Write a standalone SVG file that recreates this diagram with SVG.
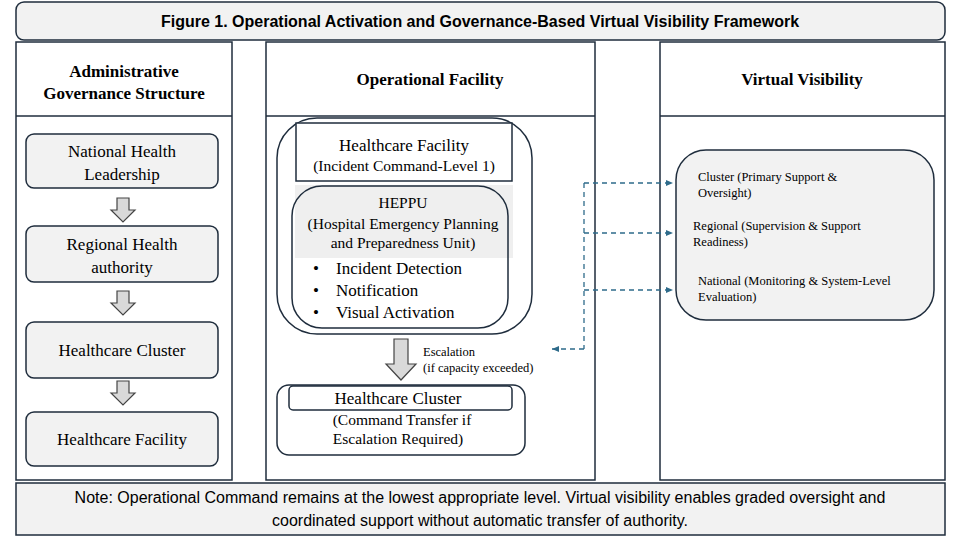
<svg xmlns="http://www.w3.org/2000/svg" width="960" height="540" viewBox="0 0 960 540">
<style>
.frame{fill:#fff;stroke:#1f2d3d;stroke-width:1.5}
.gbox{fill:#f2f2f2;stroke:#1f2d3d;stroke-width:1.5}
.s{font-family:"Liberation Serif",serif;fill:#000}
.h{font-family:"Liberation Serif",serif;font-weight:bold;font-size:17px;text-anchor:middle}
.n{font-size:17px;text-anchor:middle}
.b{font-size:17px;text-anchor:start}
.m{font-size:15.5px;text-anchor:middle}
.sm{font-size:12.5px}
.sans{font-family:"Liberation Sans",Arial,sans-serif;fill:#000}
.blk{fill:#d9d9d9;stroke:#444;stroke-width:1.2}
.dash{fill:none;stroke:#2e6b8a;stroke-width:1.3;stroke-dasharray:5,4}
</style>
<defs>
<marker id="ah" markerWidth="8" markerHeight="8" refX="7" refY="4" orient="auto" markerUnits="userSpaceOnUse"><path d="M0,1 L7,4 L0,7 z" fill="#2e6b8a"/></marker>
</defs>
<rect width="960" height="540" fill="#fff"/>
<g id="title"><rect x="16" y="2" width="929" height="38" rx="8" class="gbox"/>
<text x="480" y="27" class="sans" font-weight="bold" font-size="16" text-anchor="middle">Figure 1. Operational Activation and Governance-Based Virtual Visibility Framework</text></g>
<g id="col-admin"><rect x="16" y="42" width="216" height="438" class="frame"/><line x1="16" y1="116" x2="232" y2="116" stroke="#1f2d3d" stroke-width="1.5"/>
<text class="s h" x="124" y="77">Administrative</text><text class="s h" x="124" y="99">Governance Structure</text></g>
<g id="col-op"><rect x="266" y="42" width="329" height="438" class="frame"/><line x1="266" y1="116" x2="595" y2="116" stroke="#1f2d3d" stroke-width="1.5"/>
<text class="s h" x="430" y="85">Operational Facility</text></g>
<g id="col-virt"><rect x="660" y="42" width="285" height="438" class="frame"/><line x1="660" y1="116" x2="945" y2="116" stroke="#1f2d3d" stroke-width="1.5"/>
<text class="s h" x="802" y="85">Virtual Visibility</text></g>
<g id="n-national"><rect x="26" y="134" width="192" height="54" rx="8" class="gbox"/><text class="s n" x="122" y="157">National Health</text><text class="s n" x="122" y="180">Leadership</text></g>
<g id="n-regional"><rect x="26" y="226" width="192" height="56" rx="8" class="gbox"/><text class="s n" x="122" y="250">Regional Health</text><text class="s n" x="122" y="273">authority</text></g>
<g id="n-cluster"><rect x="26" y="322" width="192" height="56" rx="8" class="gbox"/><text class="s n" x="122" y="356">Healthcare Cluster</text></g>
<g id="n-facility"><rect x="26" y="412" width="192" height="54" rx="8" class="gbox"/><text class="s n" x="122" y="445">Healthcare Facility</text></g>
<g id="n-opfac">
<rect x="277" y="118" width="255" height="216" rx="40" fill="#fff" stroke="#1f2d3d" stroke-width="1.5"/>
<rect x="296" y="123" width="216" height="58" fill="#fff" stroke="#1f2d3d" stroke-width="1.5"/>
<text class="s n" x="404" y="151">Healthcare Facility</text><text class="s m" x="404" y="171">(Incident Command-Level 1)</text>
<rect x="295" y="185" width="218" height="73" fill="#efefef"/>
<rect x="292" y="186" width="216" height="142" rx="30" fill="none" stroke="#1f2d3d" stroke-width="1.5"/>
<text class="s m" x="403" y="208">HEPPU</text>
<text class="s m" x="403" y="229">(Hospital Emergency Planning</text>
<text class="s m" x="403" y="248">and Preparedness Unit)</text>
<text class="s b" x="313" y="274">•</text><text class="s b" x="336" y="274">Incident Detection</text>
<text class="s b" x="313" y="296">•</text><text class="s b" x="336" y="296">Notification</text>
<text class="s b" x="313" y="318">•</text><text class="s b" x="336" y="318">Visual Activation</text>
</g>
<g id="n-opcluster">
<rect x="277" y="385" width="248" height="70" rx="12" fill="#fff" stroke="#1f2d3d" stroke-width="1.5"/>
<rect x="289" y="386" width="223" height="24" rx="4" fill="#fff" stroke="#1f2d3d" stroke-width="1.5"/>
<text class="s n" x="398" y="404">Healthcare Cluster</text>
<text class="s m" x="402" y="425">(Command Transfer if</text>
<text class="s m" x="398" y="444">Escalation Required)</text>
</g>
<g id="n-virtual">
<rect x="676" y="150" width="258" height="170" rx="30" class="gbox"/>
<text class="s sm" x="698" y="181">Cluster (Primary Support &amp;</text><text class="s sm" x="698" y="197">Oversight)</text>
<text class="s sm" x="693" y="230">Regional (Supervision &amp; Support</text><text class="s sm" x="693" y="246">Readiness)</text>
<text class="s sm" x="698" y="285">National (Monitoring &amp; System-Level</text><text class="s sm" x="698" y="301">Evaluation)</text>
</g>
<g id="connectors">
<path class="blk" d="M117,198 h12 v12 h6 l-12,12 l-12,-12 h6 z"/>
<path class="blk" d="M117,291 h12 v12 h6 l-12,12 l-12,-12 h6 z"/>
<path class="blk" d="M117,381 h12 v12 h6 l-12,12 l-12,-12 h6 z"/>
<path class="blk" d="M394,339 h14 v25 h8 l-15,16 l-15,-16 h8 z"/>
<text class="s sm" x="423" y="356">Escalation</text><text class="s sm" x="423" y="372">(if capacity exceeded)</text>
<line class="dash" x1="584" y1="183" x2="584" y2="349"/>
<line class="dash" x1="584" y1="183" x2="673" y2="183" marker-end="url(#ah)"/>
<line class="dash" x1="584" y1="233" x2="673" y2="233" marker-end="url(#ah)"/>
<line class="dash" x1="584" y1="290" x2="673" y2="290" marker-end="url(#ah)"/>
<line class="dash" x1="584" y1="349" x2="552" y2="349" marker-end="url(#ah)"/>
</g>
<g id="note"><rect x="16" y="483" width="929" height="52" class="gbox" stroke-width="1.2"/>
<text class="sans" font-size="16" text-anchor="middle" x="480" y="503">Note: Operational Command remains at the lowest appropriate level. Virtual visibility enables graded oversight and</text>
<text class="sans" font-size="16" text-anchor="middle" x="480" y="526">coordinated support without automatic transfer of authority.</text></g>
</svg>
